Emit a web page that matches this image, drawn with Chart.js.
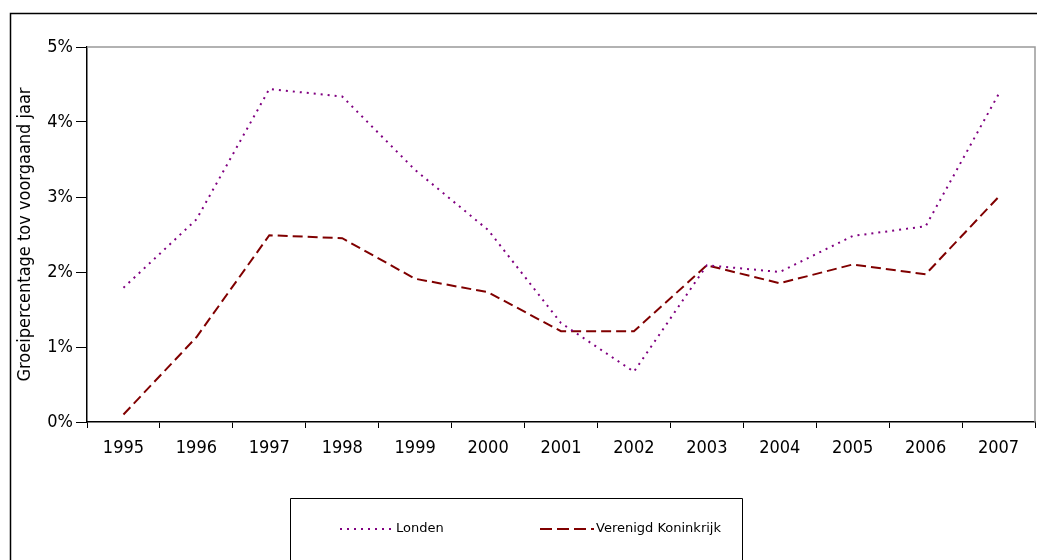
<!DOCTYPE html>
<html>
<head>
<meta charset="utf-8">
<script src="https://cdn.jsdelivr.net/npm/chart.js@4.4.0/dist/chart.umd.min.js"></script>
<style>
  html, body { margin: 0; padding: 0; background: #fff; }
  #wrap { width: 1037px; height: 560px; position: relative; }
</style>
</head>
<body>
<div id="wrap"><canvas id="groei"></canvas></div>
<script>
const jaren = ['1995', '1996', '1997', '1998', '1999', '2000', '2001', '2002', '2003', '2004', '2005', '2006', '2007'];
const londen = [1.79, 2.7, 4.44, 4.34, 3.36, 2.56, 1.32, 0.67, 2.09, 2.0, 2.48, 2.61, 4.37];
const verenigdKoninkrijk = [0.1, 1.13, 2.49, 2.45, 1.91, 1.73, 1.21, 1.21, 2.09, 1.85, 2.1, 1.97, 3.0];
const yTicks = [0, 1, 2, 3, 4, 5];

const FONT = '"DejaVu Sans Condensed", "DejaVu Sans", sans-serif';

// outer frame, plot border and the boxed legend
const frame = {
  id: 'frame',
  beforeDatasetsDraw(chart) {
    const { ctx, chartArea: a } = chart;
    ctx.save();
    ctx.strokeStyle = '#999';
    ctx.lineWidth = 1.5;
    ctx.beginPath();
    ctx.moveTo(a.left, a.top);
    ctx.lineTo(a.right, a.top);
    ctx.lineTo(a.right, a.bottom);
    ctx.stroke();
    ctx.restore();
  },
  afterDraw(chart) {
    const ctx = chart.ctx;
    ctx.save();
    ctx.strokeStyle = '#000';
    ctx.lineWidth = 1.5;
    ctx.beginPath();
    ctx.moveTo(10.5, 600);
    ctx.lineTo(10.5, 13.5);
    ctx.lineTo(1100, 13.5);
    ctx.stroke();

    ctx.lineWidth = 1;
    ctx.beginPath();
    ctx.moveTo(290.5, 600);
    ctx.lineTo(290.5, 498.5);
    ctx.lineTo(742.5, 498.5);
    ctx.lineTo(742.5, 600);
    ctx.stroke();

    const items = [[340, 0, [2, 5]], [540, 1, [12, 5]]];
    items.forEach(([x, i, dash]) => {
      const ds = chart.data.datasets[i];
      ctx.strokeStyle = ds.borderColor;
      ctx.lineWidth = ds.borderWidth;
      ctx.setLineDash(dash);
      ctx.beginPath();
      ctx.moveTo(x, 529);
      ctx.lineTo(x + 54, 529);
      ctx.stroke();
      ctx.setLineDash([]);
      ctx.fillStyle = '#000';
      ctx.font = '13px "DejaVu Sans", sans-serif';
      ctx.textBaseline = 'middle';
      ctx.fillText(ds.label, x + 56, 529);
    });
    ctx.restore();
  }
};

new Chart(document.getElementById('groei'), {
  type: 'line',
  data: {
    labels: jaren,
    datasets: [
      {
        label: 'Londen',
        data: londen,
        borderColor: '#800080',
        borderWidth: 2,
        borderDash: [2, 5],
        pointRadius: 0,
        tension: 0,
        fill: false
      },
      {
        label: 'Verenigd Koninkrijk',
        data: verenigdKoninkrijk,
        borderColor: '#800000',
        borderWidth: 2,
        borderDash: [10, 5],
        pointRadius: 0,
        tension: 0,
        fill: false
      }
    ]
  },
  options: {
    responsive: true,
    maintainAspectRatio: false,
    animation: false,
    layout: { padding: { left: 0, top: 47, right: 2, bottom: 0 } },
    plugins: {
      legend: { display: false },
      tooltip: { enabled: false }
    },
    scales: {
      x: {
        offset: true,
        afterFit: (s) => { s.height = 138; },
        grid: { drawOnChartArea: false, offset: true, tickLength: 6, color: '#000', lineWidth: 1 },
        border: { color: '#000', width: 1.5 },
        ticks: { color: '#000', font: { family: FONT, size: 18 }, padding: 10, maxRotation: 0 }
      },
      y: {
        min: 0,
        max: 5,
        afterFit: (s) => { s.width = 87; },
        afterBuildTicks: (s) => { s.ticks = yTicks.map(v => ({ value: v })); },
        grid: { drawOnChartArea: false, tickLength: 11, color: '#000', lineWidth: 1 },
        border: { color: '#000', width: 1.5 },
        ticks: { color: '#000', font: { family: FONT, size: 18 }, padding: 3, callback: (v) => v + '%' },
        title: {
          display: true,
          text: 'Groeipercentage tov voorgaand jaar',
          color: '#000',
          font: { family: FONT, size: 18 },
          padding: { top: 15, bottom: 0 }
        }
      }
    }
  },
  plugins: [frame]
});
</script>
</body>
</html>
